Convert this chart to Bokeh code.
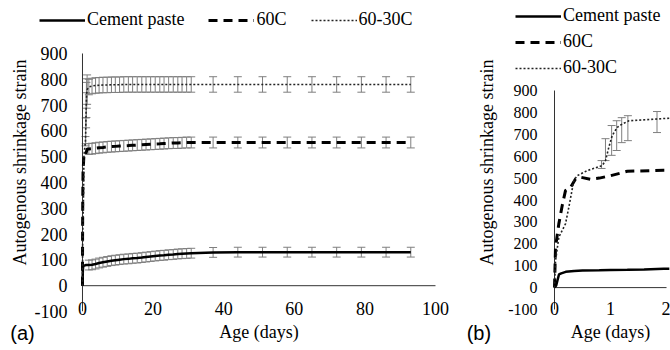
from bokeh.plotting import figure
from bokeh.models import (ColumnDataSource, Whisker, TeeHead, Legend, LegendItem,
                          FixedTicker, Range1d, LinearAxis)
from bokeh.layouts import row
from bokeh.embed import file_html
from bokeh.resources import INLINE

# ---------------- data ----------------
series_names = ["Cement paste", "60C", "60-30C"]
x_title = "Age (days)"
y_title = "Autogenous  shrinkage  strain"
panel_tags = ["(a)", "(b)"]
y_ticks = [-100, 0, 100, 200, 300, 400, 500, 600, 700, 800, 900]
x_ticks_a = [0, 20, 40, 60, 80, 100]
x_ticks_b = [0, 1, 2]

dense_days = [1.8, 2.7, 3.7, 4.7, 5.8, 7, 8.2, 9.3, 10.5, 11.7, 13, 14.2, 15.5,
              16.8, 18, 19.3, 20.6, 21.9, 23.1, 24.4, 25.7, 27, 28.2, 29.5, 30.8]
weekly_days = [37, 44, 51, 58, 65, 72, 79, 86, 93]

cp_days_a = [0, 0.05, 0.1, 0.2, 0.5, 1] + dense_days + weekly_days
cp_vals_a = [0, 30, 60, 75, 78, 80,
             80, 81, 84, 88, 91, 94, 97, 99, 101, 103, 104, 106, 107, 109, 111,
             113, 115, 117, 118, 120, 121, 123, 124, 125, 126,
             129, 130, 130, 130, 130, 130, 130, 130, 130]
cp_err_a = [0, 0, 0, 0, 0, 0] + [19] * 25 + [19] * 9

c60_days_a = [0, 0.02, 0.07, 0.15, 0.25, 0.4, 0.8, 1.3] + dense_days + weekly_days
c60_vals_a = [0, 180, 330, 440, 465, 505, 500, 530,
              530, 531, 533, 535, 536, 538, 539, 540, 541, 542, 543, 544, 545,
              546, 547, 548, 549, 550, 551, 552, 553, 553, 554, 555, 555,
              555, 555, 555, 555, 555, 555, 555, 555, 555]
c60_err_a = [0] * 8 + [21] * 25 + [21] * 9

c6030_days_a = [0, 0.04, 0.1, 0.2, 0.3, 0.4, 0.6, 0.84, 0.91, 1.02, 1.11, 1.2,
                1.31] + dense_days + weekly_days
c6030_vals_a = [0, 160, 230, 290, 360, 500, 530, 560, 600, 680, 720, 745, 760,
                770, 774, 776, 777, 778, 778, 779, 779, 779, 780, 780, 780, 780,
                780, 780, 780, 780, 780, 780, 780, 780, 780, 780, 780, 780,
                780, 780, 780, 780, 780, 780, 780, 780, 780]
c6030_err_a = [0] * 7 + [18, 50, 68, 68, 57, 57] + [30] * 25 + [30] * 9

cp_days_b = [0, 0.03, 0.05, 0.08, 0.12, 0.2, 0.35, 0.5, 0.8, 1.0, 1.3, 1.6, 1.95, 2.05]
cp_vals_b = [0, 10, 30, 60, 65, 72, 76, 78, 79, 80, 81, 83, 86, 86]

c60_days_b = [0, 0.018, 0.077, 0.137, 0.196, 0.286, 0.375, 0.45, 0.64, 0.8, 1.0,
              1.3, 1.71, 1.95, 2.05]
c60_vals_b = [0, 184, 291, 374, 443, 458, 496, 505, 495, 500, 511, 531, 534, 536, 536]

c6030_days_b = [0, 0.018, 0.036, 0.077, 0.196, 0.256, 0.345, 0.405, 0.583,
                0.851, 0.911, 0.97, 1.03, 1.12, 1.21, 1.33, 1.83, 1.95, 2.05]
c6030_vals_b = [0, 123, 154, 230, 291, 367, 489, 511, 534, 557, 580, 641, 694,
                732, 747, 762, 770, 772, 773]

bar_days_b = [0.84, 0.91, 1.02, 1.11, 1.20, 1.31, 1.83]
bar_mean_b = [562, 630, 672, 694, 719, 728, 756]
bar_err_b = [18, 50, 68, 68, 57, 57, 48]

# ---------------- styling / layout ----------------
SERIF = "Liberation Serif"
SANS = "Liberation Sans"
GREY = "#7f7f7f"
AXIS_COL = "#333333"
styles = [dict(line_color="black", line_width=2.5, line_dash="solid"),
          dict(line_color="black", line_width=3, line_dash="9 6"),
          dict(line_color="#222222", line_width=1.6, line_dash="2 2")]
HEIGHT, TOP, BOTTOM = 350, 4, 39


def style_axis(ax, font, size):
    ax.axis_line_color = None
    ax.major_tick_line_color = None
    ax.minor_tick_line_color = None
    ax.major_tick_out = 0
    ax.major_tick_in = 0
    ax.minor_tick_out = 0
    ax.major_label_text_font = font
    ax.major_label_text_font_size = size
    ax.major_label_text_color = "black"
    ax.axis_label_text_font = SERIF
    ax.axis_label_text_font_style = "normal"
    ax.axis_label_text_font_size = "18px"
    ax.axis_label_text_color = "black"


def make_panel(width, xr, yr, mbl, xticks, xtick_fs, ytick_fs, ystand, ylab_stand,
               tag, tag_x, title_x):
    p = figure(width=width, height=HEIGHT, x_range=xr, y_range=yr,
               output_backend="svg", toolbar_location=None,
               min_border_left=mbl, min_border_right=0,
               min_border_top=TOP, min_border_bottom=BOTTOM)
    p.xgrid.visible = False
    p.ygrid.visible = False
    p.outline_line_color = None
    p.background_fill_color = "white"
    p.border_fill_color = "white"
    style_axis(p.xaxis[0], SERIF, xtick_fs)
    style_axis(p.yaxis[0], SERIF, ytick_fs)
    p.yaxis.ticker = FixedTicker(ticks=y_ticks)
    p.yaxis.major_label_overrides = {t: str(t) for t in y_ticks if t < 0}
    p.yaxis.major_label_standoff = ystand
    p.yaxis.axis_label = y_title
    p.yaxis.axis_label_standoff = ylab_stand
    p.xaxis.ticker = FixedTicker(ticks=xticks)
    p.xaxis.major_label_standoff = -10
    # axis title row: "Age (days)" (serif) and the panel tag (sans)
    ax_t = LinearAxis(ticker=FixedTicker(ticks=[title_x]),
                      major_label_overrides={title_x: x_title})
    style_axis(ax_t, SERIF, "18px")
    ax_t.major_label_standoff = 4
    p.add_layout(ax_t, "below")
    ax_g = LinearAxis(ticker=FixedTicker(ticks=[tag_x]),
                      major_label_overrides={tag_x: tag})
    style_axis(ax_g, SANS, "20px")
    ax_g.major_label_standoff = -23
    p.add_layout(ax_g, "below")
    # axis lines through the origin, spanning the tick range
    p.segment(x0=[0], y0=[min(y_ticks)], x1=[0], y1=[max(y_ticks)],
              line_color=AXIS_COL, line_width=1)
    p.segment(x0=[min(xticks)], y0=[0], x1=[max(xticks)], y1=[0],
              line_color=AXIS_COL, line_width=1)
    return p


def add_bars(p, xs, means, errs):
    keep = [i for i, e in enumerate(errs) if e > 0]
    src = ColumnDataSource(dict(
        x=[xs[i] for i in keep],
        upper=[means[i] + errs[i] for i in keep],
        lower=[means[i] - errs[i] for i in keep]))
    p.add_layout(Whisker(base="x", upper="upper", lower="lower", source=src,
                         dimension="height", line_color=GREY, line_width=1,
                         upper_head=TeeHead(size=8, line_color=GREY, line_width=1),
                         lower_head=TeeHead(size=8, line_color=GREY, line_width=1)))


def series_legend(renderers, loc, orient, spacing):
    return Legend(items=[LegendItem(label=n, renderers=[r])
                         for n, r in zip(series_names, renderers)],
                  location=loc, orientation=orient,
                  glyph_width=46, glyph_height=20, label_height=20, label_standoff=2,
                  spacing=spacing, padding=0, margin=0, border_line_color=None,
                  background_fill_alpha=0, label_text_font=SERIF,
                  label_text_font_size="18px", label_text_color="black")


# ---------------- panel (a) ----------------
pa = make_panel(450, Range1d(-18.13, 104.25), Range1d(-100, 1089.9), 18,
                x_ticks_a, "18px", "18px", -49, 2, panel_tags[0], -17, 50)
add_bars(pa, cp_days_a, cp_vals_a, cp_err_a)
add_bars(pa, c60_days_a, c60_vals_a, c60_err_a)
add_bars(pa, c6030_days_a, c6030_vals_a, c6030_err_a)
ra = [pa.line(d, v, **st) for (d, v), st in
      zip([(cp_days_a, cp_vals_a), (c60_days_a, c60_vals_a),
           (c6030_days_a, c6030_vals_a)], styles)]
pa.add_layout(series_legend(ra, (21, 281), "horizontal", 24))

# ---------------- panel (b) ----------------
pb = make_panel(220, Range1d(-1.357, 2.071), Range1d(-109.1, 1292.7), 28,
                x_ticks_b, "18px", "16px", -59, 8, panel_tags[1], -1.35, 1)
add_bars(pb, bar_days_b, bar_mean_b, bar_err_b)
rb = [pb.line(d, v, **st) for (d, v), st in
      zip([(cp_days_b, cp_vals_b), (c60_days_b, c60_vals_b),
           (c6030_days_b, c6030_vals_b)], styles)]
pb.add_layout(series_legend(rb, (37, 233), "vertical", 5))

layout = row(pa, pb)
open("out.html", "w").write(file_html(layout, INLINE))
